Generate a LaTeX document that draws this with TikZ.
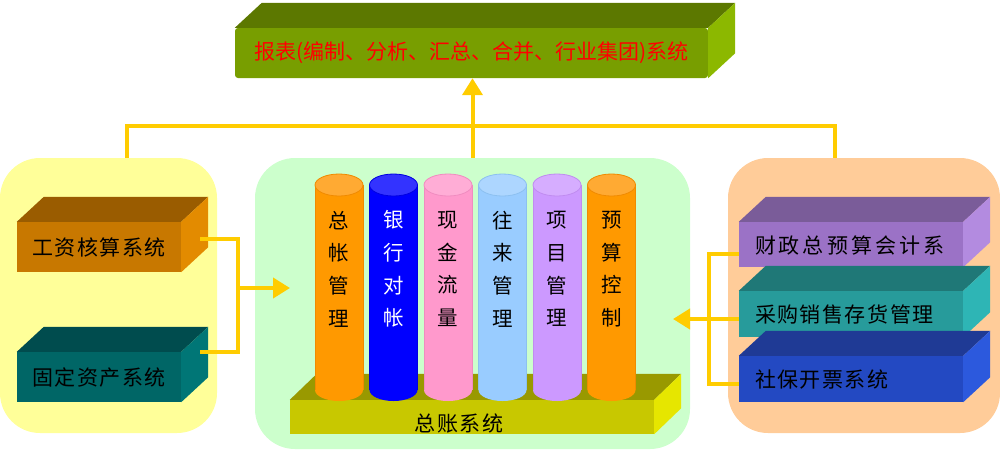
\documentclass[tikz,border=0pt]{standalone}
\usepackage{fontspec}
\setmainfont{Noto Sans CJK SC}
\usetikzlibrary{arrows.meta}
\definecolor{pyellow}{HTML}{FFFF99}
\definecolor{pgreen}{HTML}{CCFFCC}
\definecolor{porange}{HTML}{FFCC99}
\definecolor{conncol}{HTML}{FFCC00}
\definecolor{repF}{HTML}{789E00}\definecolor{repT}{HTML}{5C7800}\definecolor{repS}{HTML}{8CB800}
\definecolor{wagF}{HTML}{C87800}\definecolor{wagT}{HTML}{9A5C00}\definecolor{wagS}{HTML}{E38B00}
\definecolor{fixF}{HTML}{006666}\definecolor{fixT}{HTML}{004C4E}\definecolor{fixS}{HTML}{007676}
\definecolor{finF}{HTML}{9B72C6}\definecolor{finT}{HTML}{7A5C99}\definecolor{finS}{HTML}{B38BE0}
\definecolor{purF}{HTML}{279B9B}\definecolor{purT}{HTML}{1F7877}\definecolor{purS}{HTML}{2EB5B5}
\definecolor{socF}{HTML}{2349C2}\definecolor{socT}{HTML}{1F3A95}\definecolor{socS}{HTML}{2C59DD}
\definecolor{basF}{HTML}{C8C800}\definecolor{basT}{HTML}{999900}\definecolor{basS}{HTML}{E6E600}
\definecolor{orB}{HTML}{FF9900}\definecolor{orT}{HTML}{FFAA33}\definecolor{orE}{HTML}{F08A00}
\definecolor{blB}{HTML}{0000FF}\definecolor{blT}{HTML}{3333FF}\definecolor{blE}{HTML}{0000E0}
\definecolor{piB}{HTML}{FF99CC}\definecolor{piT}{HTML}{FFADD6}\definecolor{piE}{HTML}{F08CC0}
\definecolor{lbB}{HTML}{99CCFF}\definecolor{lbT}{HTML}{ADD6FF}\definecolor{lbE}{HTML}{8CC0F0}
\definecolor{puB}{HTML}{CC99FF}\definecolor{puT}{HTML}{D6ADFF}\definecolor{puE}{HTML}{C08CF0}
\tikzset{
  panel/.style={rounded corners=40pt, draw=none, inner sep=0pt},
  front/.style={draw=none, inner sep=0pt, font=\fontsize{21}{24}\selectfont},
  conn/.style={draw=conncol, line width=4pt},
  tip/.style={-{Triangle[width=20pt,length=17pt]}},
  cyltext/.style={align=center, inner sep=0pt, font=\fontsize{20.5}{32.7}\selectfont},
}
\newcommand\boxfaces[5]{%
  \fill[#2] (#1.north west) -- ++(#4,-#5) -- ([shift={(#4,-#5)}]#1.north east) -- (#1.north east) -- cycle;
  \fill[#3] (#1.north east) -- ++(#4,-#5) -- ([shift={(#4,-#5)}]#1.south east) -- (#1.south east) -- cycle;}
\newcommand\chsp{\hspace{1.5pt}}
\newcommand\cylind[7]{%
  \fill[#2] (#1+24,390) ellipse [x radius=24, y radius=11];
  \fill[#2] (#1,185) rectangle (#1+48,390);
  \draw[#7, line width=0.8pt] (#1,185) -- (#1,390) (#1+48,185) -- (#1+48,390);
  \fill[#3, draw=#7, line width=0.8pt] (#1+24,185) ellipse [x radius=24, y radius=11];
  \node[cyltext, text=#5] (#4) at (#1+24,269) {#6};}
\begin{document}
\begin{tikzpicture}[x=1pt,y=-1pt]
\useasboundingbox (0,0) rectangle (1000,451);
% panels
\node[panel, fill=pyellow, minimum width=217pt, minimum height=275pt] (lpanel) at (108.5,295.5) {};
\node[panel, fill=pgreen, minimum width=435pt, minimum height=291pt] (gpanel) at (472.5,303.5) {};
\node[panel, fill=porange, minimum width=272pt, minimum height=275pt] (rpanel) at (864,295.5) {};
% report box
\node[front, fill=repF, rounded corners=3pt, minimum width=473pt, minimum height=50pt, text=red, font=\fontsize{21}{24}\selectfont] (report) at (471.5,53) {报表(编制、分析、汇总、合并、行业集团)系统};
\boxfaces{report}{repT}{repS}{27}{25}
% left boxes
\node[front, fill=wagF, minimum width=164pt, minimum height=50pt, text depth=-1pt] (wage) at (99,247) {工\chsp 资\chsp 核\chsp 算\chsp 系\chsp 统};
\boxfaces{wage}{wagT}{wagS}{27}{25}
\node[front, fill=fixF, minimum width=164pt, minimum height=50pt, text depth=-1pt] (fixed) at (99,377) {固\chsp 定\chsp 资\chsp 产\chsp 系\chsp 统};
\boxfaces{fixed}{fixT}{fixS}{27}{25}
% right boxes
\node[front, fill=finF, minimum width=224pt, minimum height=45pt, text width=192pt, inner xsep=16pt, align=left, text depth=-3pt] (fin) at (851,244.5) {财\hspace{3pt}政\hspace{3pt}总\hspace{3pt}预\hspace{3pt}算\hspace{3pt}会\hspace{3pt}计\hspace{3pt}系};
\boxfaces{fin}{finT}{finS}{27}{25}
\node[front, fill=purF, minimum width=224pt, minimum height=46pt, text width=192pt, inner xsep=16pt, align=left, text depth=-2pt] (pur) at (851,314) {采\chsp 购\chsp 销\chsp 售\chsp 存\chsp 货\chsp 管\chsp 理};
\boxfaces{pur}{purT}{purS}{27}{25}
\node[front, fill=socF, minimum width=224pt, minimum height=46pt, text width=192pt, inner xsep=16pt, align=left, text depth=-2pt] (soc) at (851,379) {社\chsp 保\chsp 开\chsp 票\chsp 系\chsp 统};
\boxfaces{soc}{socT}{socS}{27}{25}
% base
\node[front, fill=basF, minimum width=364pt, minimum height=34pt] (base) at (472,417) {};
\boxfaces{base}{basT}{basS}{27}{26}
\node[inner sep=0pt, font=\fontsize{21}{24}\selectfont] (baselabel) at (459,424) {总\chsp 账\chsp 系\chsp 统};
% cylinders
\cylind{315}{orB}{orT}{cyl1}{black}{总\\帐\\管\\理}{orE}
\cylind{369.5}{blB}{blT}{cyl2}{white}{银\\行\\对\\帐}{blE}
\cylind{424}{piB}{piT}{cyl3}{black}{现\\金\\流\\量}{piE}
\cylind{478.5}{lbB}{lbT}{cyl4}{black}{往\\来\\管\\理}{lbE}
\cylind{533}{puB}{puT}{cyl5}{black}{项\\目\\管\\理}{puE}
\cylind{587.5}{orB}{orT}{cyl6}{black}{预\\算\\控\\制}{orE}
% connectors
\draw[conn] ([xshift=18.5pt]lpanel.north) -- ++(0,-32) -| ([xshift=-29pt]rpanel.north);
\draw[conn, tip] (gpanel.north) -- (gpanel.north |- report.south);
\coordinate (lj) at (238,288);
\coordinate (lend) at (290,288);
\draw[conn] ([xshift=19pt,yshift=8pt]wage.east) -| (lj) |- ([xshift=19pt,yshift=25pt]fixed.east);
\draw[conn, tip] (lj) -- (lend);
\coordinate (rj) at (709,319);
\coordinate (rend) at (673,319);
\draw[conn] ([yshift=-9.5pt]fin.west) -| (rj) |- ([yshift=-5pt]soc.west);
\draw[conn] ([yshift=-5pt]pur.west) -- (rj);
\draw[conn, tip] (rj) -- (rend);
\end{tikzpicture}
\end{document}
